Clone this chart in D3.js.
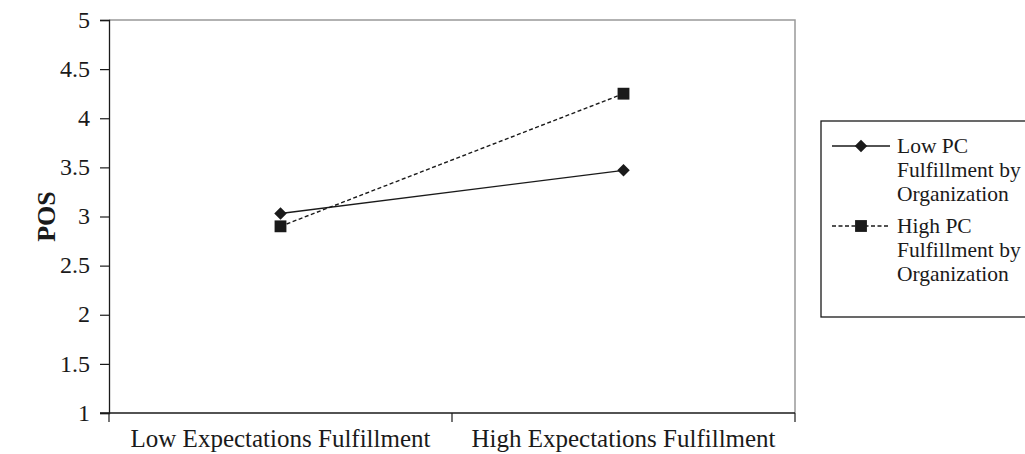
<!DOCTYPE html>
<html><head><meta charset="utf-8">
<script src="https://cdn.jsdelivr.net/npm/d3@7"></script>
<style>body{margin:0;background:#fff}svg{display:block}svg text{font-family:"Liberation Serif","Times New Roman",serif !important;fill:#1a1a1a}</style>
</head><body><svg id="c" width="1025" height="454"></svg>
<script>
const categories = ["Low Expectations Fulfillment", "High Expectations Fulfillment"];
const lowPC = [3.03, 3.47];
const highPC = [2.9, 4.25];
const seriesNames = [["Low PC", "Fulfillment by", "Organization"], ["High PC", "Fulfillment by", "Organization"]];
const yTicks = [1, 1.5, 2, 2.5, 3, 3.5, 4, 4.5, 5];
const yLabel = "POS";

const svg = d3.select("#c");
const L = 109, R = 795, T = 20, B = 413;
const x = d3.scaleBand().domain(categories).range([L, R]);
const y = d3.scaleLinear().domain([1, 5]).range([B, T]);

// frame (top/right gray)
svg.append("path").attr("d", `M${L},${T}H${R}V${B}`).attr("fill", "none").attr("stroke", "#999").attr("stroke-width", 1.5);

// y axis
const ya = svg.append("g").attr("transform", `translate(${L},0)`)
  .call(d3.axisLeft(y).tickValues(yTicks).tickSize(9).tickPadding(10).tickFormat(d3.format("")));
ya.select(".domain").attr("stroke", "#1a1a1a").attr("stroke-width", 1.3);
ya.selectAll(".tick line").attr("stroke", "#1a1a1a").attr("stroke-width", 1.2);
ya.selectAll("text").style("font-size", "24px").attr("fill", "#1a1a1a").attr("dy", "0.3em");

// x axis
const xa = svg.append("g").attr("transform", `translate(0,${B})`)
  .call(d3.axisBottom(x).tickSize(0).tickPadding(0));
xa.select(".domain").remove();
svg.append("line").attr("x1", L - 9).attr("x2", R).attr("y1", B).attr("y2", B).attr("stroke", "#1a1a1a").attr("stroke-width", 1.3);
const xt = [L, (L + R) / 2, R];
svg.selectAll(".xt").data(xt).enter().append("line").attr("x1", d => d).attr("x2", d => d)
  .attr("y1", B).attr("y2", B + 9).attr("stroke", "#1a1a1a").attr("stroke-width", 1.2);
xa.selectAll("text").style("font-size", "25px").attr("fill", "#1a1a1a").attr("y", 0).attr("dy", 34);

// y label
svg.append("text").attr("transform", `translate(55,${(T + B) / 2}) rotate(-90)`).attr("text-anchor", "middle")
  .style("font-size", "26px").attr("font-weight", "bold").text(yLabel);

const cx = d => x(d) + x.bandwidth() / 2;
const line = d3.line().x((d, i) => cx(categories[i])).y(d => y(d));

svg.append("path").datum(lowPC).attr("d", line).attr("fill", "none").attr("stroke", "#1a1a1a").attr("stroke-width", 1.4);
svg.append("path").datum(highPC).attr("d", line).attr("fill", "none").attr("stroke", "#1a1a1a").attr("stroke-width", 1.4).attr("stroke-dasharray", "4,2.5");

const diamond = d3.symbol().type(d3.symbolDiamond2).size(100);
const square = d3.symbol().type(d3.symbolSquare).size(140);
svg.selectAll(".m1").data(lowPC).enter().append("path").attr("d", diamond)
  .attr("transform", (d, i) => `translate(${cx(categories[i])},${y(d)})`).attr("fill", "#1a1a1a");
svg.selectAll(".m2").data(highPC).enter().append("path").attr("d", square)
  .attr("transform", (d, i) => `translate(${cx(categories[i])},${y(d)})`).attr("fill", "#1a1a1a");

// legend
svg.append("rect").attr("x", 821).attr("y", 121).attr("width", 220).attr("height", 196)
  .attr("fill", "none").attr("stroke", "#1a1a1a").attr("stroke-width", 1.3);
const ly = [146, 226];
ly.forEach((yy, i) => {
  svg.append("line").attr("x1", 832).attr("x2", 890).attr("y1", yy).attr("y2", yy)
    .attr("stroke", "#1a1a1a").attr("stroke-width", 1.3).attr("stroke-dasharray", i ? "4,2.5" : null);
  svg.append("path").attr("d", i ? square : diamond).attr("transform", `translate(861,${yy})`).attr("fill", "#1a1a1a");
  seriesNames[i].forEach((t, j) => {
    svg.append("text").attr("x", 897).attr("y", yy + 7 + j * 24).style("font-size", "21.5px").text(t);
  });
});
</script></body></html>
